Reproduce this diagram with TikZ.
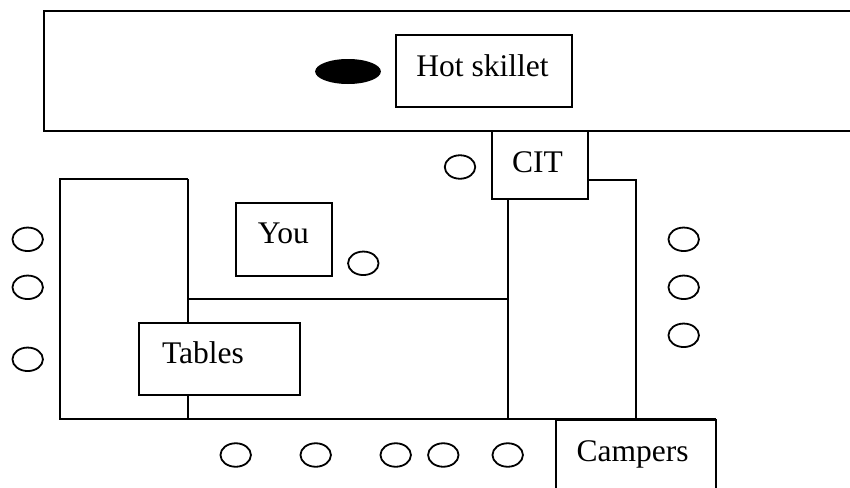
\documentclass[tikz,border=0pt]{standalone}
\usepackage{fontspec}
\setmainfont{Liberation Serif}
\usetikzlibrary{shapes.geometric}
\begin{document}
\begin{tikzpicture}[x=1pt,y=-1pt,
  wall/.style={line width=2pt,line join=miter},
  box/.style={rectangle,draw,fill=white,line width=2pt,inner sep=0pt},
  seat/.style={ellipse,draw,line width=1.8pt,inner sep=0pt,minimum width=30.5pt,minimum height=23.5pt},
  burner/.style={ellipse,fill=black,inner sep=0pt,minimum width=65.7pt,minimum height=25pt},
  lbl/.style={anchor=base,inner sep=0pt,font=\fontsize{31.5}{36}\selectfont}]
  \path[use as bounding box,clip] (0,0) rectangle (850,487);

  % kitchen counter along the top
  \draw[wall] (870,11.3) -- (43.7,11.3) -- (43.7,131) -- (870,131);
  \node[burner] (burner) at (348,71.5) {};
  \node[box,minimum width=176.6pt,minimum height=72.6pt] (skillet) at (484,71) {};
  \node[lbl] (skilletText) at (482.5,76) {Hot skillet};

  % CIT station below the counter
  \node[box,minimum width=96.3pt,minimum height=68.3pt] (cit) at (539.85,165.15) {};
  \node[lbl] (citText) at (537.5,172.3) {CIT};

  % table layout
  \coordinate (lt) at (60,179.3);
  \coordinate (lb) at (60,419.3);
  \coordinate (mt) at (188.3,179.3);
  \coordinate (mb) at (188.3,419.3);
  \coordinate (hl) at (188.3,299.3);
  \coordinate (hr) at (507.7,299.3);
  \coordinate (vt) at (507.7,199.3);
  \coordinate (vb) at (507.7,419.3);
  \coordinate (rt0) at (588,180);
  \coordinate (rt) at (636,180);
  \coordinate (rb) at (636,419.3);
  \coordinate (be) at (716,419.3);
  \draw[wall] (mt) -- (lt) -- (lb) -- (be);
  \draw[wall] (mt) -- (mb);
  \draw[wall] (hl) -- (hr);
  \draw[wall] (vt) -- (vb);
  \draw[wall] (rt0) -- (rt) -- (rb);

  \node[box,minimum width=96.6pt,minimum height=72.4pt] (you) at (284,239.5) {};
  \node[lbl] (youText) at (283.3,243.3) {You};
  \node[box,minimum width=160.7pt,minimum height=72pt] (tables) at (219.65,359.3) {};
  \node[lbl] (tablesText) at (203,363.3) {Tables};

  % campers box running off the bottom edge
  \node[box,minimum width=160.3pt,minimum height=100pt] (campers) at (635.85,470) {};
  \node[lbl] (campersText) at (632.5,461) {Campers};

  % seats
  \node[seat] (sl1) at (27.7,239.3) {};
  \node[seat] (sl2) at (27.7,287.3) {};
  \node[seat] (sl3) at (27.7,359.3) {};
  \node[seat] (sy) at (363.3,263.3) {};
  \node[seat] (sc) at (460,167) {};
  \node[seat] (sr1) at (683.7,239.3) {};
  \node[seat] (sr2) at (683.7,287.3) {};
  \node[seat] (sr3) at (683.7,335.3) {};
  \node[seat] (sb1) at (235.7,455) {};
  \node[seat] (sb2) at (315.7,455) {};
  \node[seat] (sb3) at (395.7,455) {};
  \node[seat] (sb4) at (443.3,455) {};
  \node[seat] (sb5) at (507.7,455) {};
\end{tikzpicture}
\end{document}
